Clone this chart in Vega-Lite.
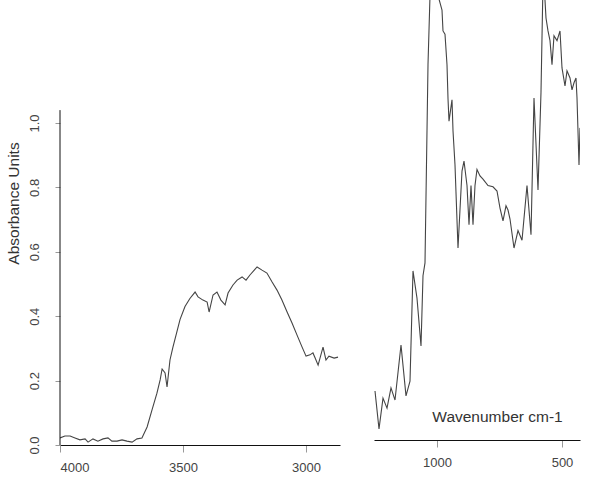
{
  "$schema": "https://vega.github.io/schema/vega-lite/v6.json",
  "padding": {"left": 5, "top": 0, "right": 5, "bottom": 5},
  "background": "white",
  "spacing": 34,
  "config": {
    "view": {"stroke": null},
    "font": "Liberation Sans",
    "axis": {
      "grid": false,
      "labelFont": "Liberation Sans",
      "titleFont": "Liberation Sans",
      "labelFontSize": 13,
      "titleFontSize": 15.5,
      "titleFontWeight": "normal",
      "labelColor": "#444",
      "titleColor": "#333",
      "domainColor": "#111",
      "tickColor": "#999"
    }
  },
  "datasets": {
    "high": [
      {"wn": 4000, "abs": 0.022}, {"wn": 3980, "abs": 0.028}, {"wn": 3959, "abs": 0.028},
      {"wn": 3939, "abs": 0.022}, {"wn": 3919, "abs": 0.016}, {"wn": 3898, "abs": 0.019},
      {"wn": 3886, "abs": 0.009}, {"wn": 3866, "abs": 0.019}, {"wn": 3846, "abs": 0.012},
      {"wn": 3825, "abs": 0.019}, {"wn": 3805, "abs": 0.022}, {"wn": 3789, "abs": 0.012},
      {"wn": 3768, "abs": 0.012}, {"wn": 3748, "abs": 0.016}, {"wn": 3728, "abs": 0.012},
      {"wn": 3707, "abs": 0.009}, {"wn": 3687, "abs": 0.019}, {"wn": 3667, "abs": 0.022},
      {"wn": 3646, "abs": 0.056}, {"wn": 3626, "abs": 0.109}, {"wn": 3606, "abs": 0.161},
      {"wn": 3593, "abs": 0.202}, {"wn": 3585, "abs": 0.236}, {"wn": 3573, "abs": 0.224},
      {"wn": 3565, "abs": 0.18}, {"wn": 3553, "abs": 0.264}, {"wn": 3541, "abs": 0.304},
      {"wn": 3525, "abs": 0.351}, {"wn": 3512, "abs": 0.39}, {"wn": 3492, "abs": 0.43},
      {"wn": 3472, "abs": 0.455}, {"wn": 3451, "abs": 0.475}, {"wn": 3439, "abs": 0.46},
      {"wn": 3419, "abs": 0.45}, {"wn": 3402, "abs": 0.444}, {"wn": 3394, "abs": 0.413},
      {"wn": 3378, "abs": 0.466}, {"wn": 3362, "abs": 0.475}, {"wn": 3346, "abs": 0.45},
      {"wn": 3329, "abs": 0.435}, {"wn": 3317, "abs": 0.472}, {"wn": 3297, "abs": 0.497},
      {"wn": 3280, "abs": 0.512}, {"wn": 3260, "abs": 0.522}, {"wn": 3244, "abs": 0.512},
      {"wn": 3228, "abs": 0.528}, {"wn": 3199, "abs": 0.553}, {"wn": 3179, "abs": 0.543},
      {"wn": 3159, "abs": 0.534}, {"wn": 3138, "abs": 0.506}, {"wn": 3118, "abs": 0.481},
      {"wn": 3098, "abs": 0.45}, {"wn": 3077, "abs": 0.413}, {"wn": 3057, "abs": 0.379},
      {"wn": 3037, "abs": 0.342}, {"wn": 3016, "abs": 0.304}, {"wn": 3000, "abs": 0.276},
      {"wn": 2984, "abs": 0.28}, {"wn": 2972, "abs": 0.286}, {"wn": 2963, "abs": 0.27},
      {"wn": 2951, "abs": 0.248}, {"wn": 2931, "abs": 0.304}, {"wn": 2919, "abs": 0.264},
      {"wn": 2907, "abs": 0.276}, {"wn": 2886, "abs": 0.27}, {"wn": 2870, "abs": 0.273}
    ],
    "low": [
      {"wn": 1248, "abs": 0.152}, {"wn": 1232, "abs": 0.034}, {"wn": 1216, "abs": 0.13},
      {"wn": 1200, "abs": 0.099}, {"wn": 1184, "abs": 0.162}, {"wn": 1168, "abs": 0.124},
      {"wn": 1144, "abs": 0.295}, {"wn": 1124, "abs": 0.137}, {"wn": 1108, "abs": 0.183},
      {"wn": 1096, "abs": 0.525}, {"wn": 1080, "abs": 0.44}, {"wn": 1064, "abs": 0.292},
      {"wn": 1056, "abs": 0.51}, {"wn": 1048, "abs": 0.55}, {"wn": 1036, "abs": 1.165},
      {"wn": 1016, "abs": 1.7}, {"wn": 1004, "abs": 1.6}, {"wn": 996, "abs": 1.38},
      {"wn": 980, "abs": 1.335}, {"wn": 976, "abs": 1.27}, {"wn": 968, "abs": 1.26},
      {"wn": 960, "abs": 1.165}, {"wn": 956, "abs": 1.06}, {"wn": 952, "abs": 0.99},
      {"wn": 940, "abs": 1.056}, {"wn": 936, "abs": 0.96}, {"wn": 928, "abs": 0.854},
      {"wn": 916, "abs": 0.596}, {"wn": 900, "abs": 0.835}, {"wn": 892, "abs": 0.866},
      {"wn": 880, "abs": 0.79}, {"wn": 872, "abs": 0.668}, {"wn": 864, "abs": 0.79},
      {"wn": 856, "abs": 0.668}, {"wn": 848, "abs": 0.79}, {"wn": 840, "abs": 0.84},
      {"wn": 828, "abs": 0.82}, {"wn": 816, "abs": 0.81}, {"wn": 796, "abs": 0.79},
      {"wn": 776, "abs": 0.786}, {"wn": 760, "abs": 0.773}, {"wn": 748, "abs": 0.72},
      {"wn": 736, "abs": 0.68}, {"wn": 724, "abs": 0.727}, {"wn": 716, "abs": 0.714},
      {"wn": 708, "abs": 0.686}, {"wn": 692, "abs": 0.596}, {"wn": 676, "abs": 0.65},
      {"wn": 660, "abs": 0.62}, {"wn": 640, "abs": 0.79}, {"wn": 624, "abs": 0.637},
      {"wn": 612, "abs": 1.062}, {"wn": 596, "abs": 0.776}, {"wn": 584, "abs": 1.08},
      {"wn": 576, "abs": 1.42}, {"wn": 572, "abs": 1.42}, {"wn": 564, "abs": 1.31},
      {"wn": 556, "abs": 1.27}, {"wn": 548, "abs": 1.24}, {"wn": 540, "abs": 1.165},
      {"wn": 532, "abs": 1.255}, {"wn": 520, "abs": 1.24}, {"wn": 508, "abs": 1.27},
      {"wn": 500, "abs": 1.155}, {"wn": 488, "abs": 1.099}, {"wn": 480, "abs": 1.146},
      {"wn": 468, "abs": 1.124}, {"wn": 460, "abs": 1.087}, {"wn": 452, "abs": 1.109},
      {"wn": 444, "abs": 1.124}, {"wn": 440, "abs": 1.062}, {"wn": 432, "abs": 0.854},
      {"wn": 428, "abs": 0.969}
    ]
  },
  "hconcat": [
    {
      "width": 280,
      "height": 445,
      "layer": [
        {
          "data": {"name": "high"},
          "mark": {"type": "line", "color": "#444", "strokeWidth": 1.1, "clip": true},
          "encoding": {
            "x": {
              "field": "wn", "type": "quantitative",
              "scale": {"domain": [4000, 2862], "nice": false, "zero": false},
              "axis": {"values": [4000, 3500, 3000], "title": null, "tickSize": 7, "labelPadding": 9, "format": "d"}
            },
            "y": {
              "field": "abs", "type": "quantitative",
              "scale": {"domain": [0, 1.382], "nice": false},
              "axis": {
                "values": [0, 0.2, 0.4, 0.6, 0.8, 1.0], "format": ".1f",
                "title": "Absorbance Units", "domain": false,
                "labelAngle": 270, "tickSize": 5, "labelPadding": 14,
                "titlePadding": 7, "titleY": 203
              }
            }
          }
        },
        {
          "data": {"values": [{}]},
          "mark": {"type": "rule", "color": "#111", "strokeWidth": 1},
          "encoding": {
            "x": {"datum": 4000, "type": "quantitative"},
            "y": {"datum": 0, "type": "quantitative"},
            "y2": {"datum": 1.04}
          }
        }
      ]
    },
    {
      "width": 206,
      "height": 440,
      "data": {"name": "low"},
      "mark": {"type": "line", "color": "#444", "strokeWidth": 1.1, "clip": true},
      "encoding": {
        "x": {
          "field": "wn", "type": "quantitative",
          "scale": {"domain": [1252, 428], "nice": false, "zero": false},
          "axis": {
            "values": [1000, 500], "tickSize": 7, "labelPadding": 9, "format": "d",
            "title": "Wavenumber cm-1", "titleX": 123, "titleY": -19,
            "titleBaseline": "alphabetic", "titleAlign": "center"
          }
        },
        "y": {
          "field": "abs", "type": "quantitative",
          "scale": {"domain": [0, 1.366], "nice": false},
          "axis": null
        }
      }
    }
  ]
}
